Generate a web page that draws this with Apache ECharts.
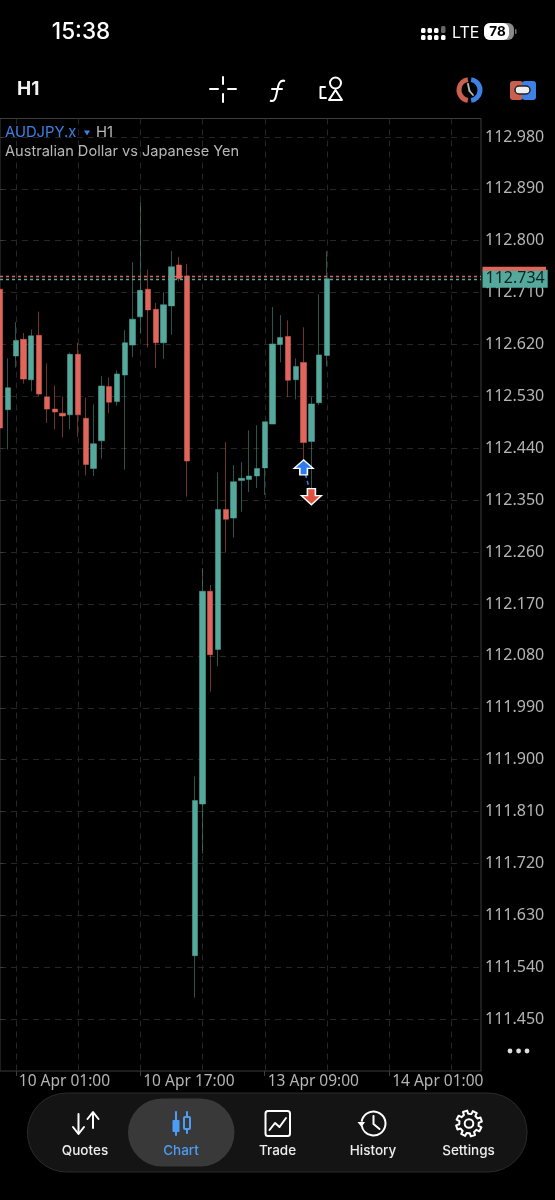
<!DOCTYPE html>
<html>
<head>
  <meta charset="utf-8">
  <title>AUDJPY.x H1</title>
  <script src="https://cdn.jsdelivr.net/npm/echarts@6/dist/echarts.min.js"></script>
  <style>
    html, body { margin: 0; background: #000; }
    #chart { width: 555px; height: 1200px; }
  </style>
</head>
<body>
  <div id="chart"></div>

  <script>
    // candles (index 0 is the half cut bar on the left edge)
    var opens = [112.716, 112.507, 112.600, 112.629, 112.559, 112.636, 112.529, 112.508, 112.501, 112.498, 112.603,
      112.492, 112.405, 112.453, 112.547, 112.521, 112.567, 112.619, 112.668, 112.716, 112.681, 112.623,
      112.687, 112.758, 112.739, 111.560, 111.823, 112.192, 112.091, 112.334, 112.319, 112.384, 112.386,
      112.392, 112.406, 112.482, 112.620, 112.634, 112.559, 112.589, 112.452, 112.519, 112.601];
    var closes = [112.475, 112.545, 112.627, 112.560, 112.635, 112.534, 112.508, 112.503, 112.496, 112.603, 112.498,
      112.412, 112.448, 112.548, 112.520, 112.569, 112.623, 112.664, 112.714, 112.680, 112.623, 112.689,
      112.755, 112.734, 112.418, 111.829, 112.192, 112.082, 112.334, 112.317, 112.382, 112.388, 112.392,
      112.405, 112.486, 112.621, 112.632, 112.558, 112.582, 112.450, 112.517, 112.602, 112.734];
    var lows = [112.465, 112.438, 112.580, 112.552, 112.539, 112.530, 112.484, 112.473, 112.459, 112.473, 112.460,
      112.393, 112.392, 112.422, 112.501, 112.514, 112.403, 112.598, 112.639, 112.615, 112.579, 112.595,
      112.637, 112.729, 112.356, 111.487, 111.737, 112.018, 112.062, 112.260, 112.285, 112.330, 112.364,
      112.371, 112.359, 112.482, 112.589, 112.529, 112.525, 112.419, 112.364, 112.515, 112.582];
    var highs = [112.725, 112.596, 112.659, 112.640, 112.646, 112.677, 112.587, 112.549, 112.530, 112.606, 112.623,
      112.528, 112.516, 112.565, 112.563, 112.575, 112.645, 112.763, 112.867, 112.750, 112.692, 112.711,
      112.782, 112.772, 112.760, 111.871, 112.232, 112.203, 112.398, 112.451, 112.411, 112.416, 112.471,
      112.480, 112.486, 112.685, 112.671, 112.662, 112.596, 112.650, 112.529, 112.707, 112.782];

    var priceTicks = [112.98, 112.89, 112.80, 112.71, 112.62, 112.53, 112.44, 112.35, 112.26, 112.17,
      112.08, 111.99, 111.90, 111.81, 111.72, 111.63, 111.54, 111.45];
    var timeGrid = [2, 10, 18, 26, 34, 42, 50, 58];
    var timeTicks = [2, 18, 34, 50];
    var timeLabels = ['10 Apr 01:00', '10 Apr 17:00', '13 Apr 09:00', '14 Apr 01:00'];

    var bidPrice = 112.734;
    var askPrice = 112.739;
    var tradeBars = [39, 40];
    var tradePrices = [112.407, 112.356];

    var UP = '#55a89c';
    var DOWN = '#e0655a';
    var FONT = 'Inter';
    var AXIS_FONT = 'Noto Sans';

    var bars = opens.map(function (o, i) {
      return [i, o, closes[i], lows[i], highs[i]];
    });

    var g = [];
    function seg(x1, y1, x2, y2, w, c) {
      g.push({ type: 'line', silent: true, shape: { x1: x1, y1: y1, x2: x2, y2: y2 }, style: { stroke: c || '#fff', lineWidth: w || 2, lineCap: 'round' }, z: 20 });
    }
    function box(x, y, w, h, r, fill, stroke, lw) {
      g.push({ type: 'rect', silent: true, shape: { x: x, y: y, width: w, height: h, r: r }, style: { fill: fill || 'none', stroke: stroke || 'none', lineWidth: lw || 1 }, z: 20 });
    }
    function txt(s, x, y, size, color, align, weight, font) {
      g.push({ type: 'text', silent: true, x: x, y: y, z: 21, style: { text: s, fill: color, font: (weight || 400) + ' ' + size + 'px ' + (font || FONT), textAlign: align || 'left', textVerticalAlign: 'middle' } });
    }
    function ring(cx, cy, r, w, c, a0, a1) {
      g.push({ type: 'arc', silent: true, shape: { cx: cx, cy: cy, r: r, startAngle: a0 || 0, endAngle: a1 === undefined ? Math.PI * 2 : a1 }, style: { stroke: c || '#fff', lineWidth: w, fill: 'none' }, z: 20 });
    }
    function poly(points, fill, stroke, lw) {
      g.push({ type: 'polygon', silent: true, shape: { points: points }, style: { fill: fill || 'none', stroke: stroke || 'none', lineWidth: lw || 1, lineJoin: 'round' }, z: 20 });
    }
    function pline(points, w, c) {
      g.push({ type: 'polyline', silent: true, shape: { points: points }, style: { stroke: c || '#fff', lineWidth: w || 2, fill: 'none', lineJoin: 'round', lineCap: 'round' }, z: 20 });
    }

    // status bar
    txt('15:38', 81, 32.5, 22.5, '#fff', 'center', 500);
    [421, 427.5, 434].forEach(function (x) {
      box(x, 28, 4.5, 5, 1.5, '#fff');
      box(x, 35, 4.5, 5, 1.5, '#fff');
    });
    box(441, 35, 4.5, 5, 1.5, '#fff');
    box(441, 26, 4.5, 7, 1.5, '#666');
    txt('LTE', 452, 33, 16, '#fff', 'left', 400);
    box(484, 23, 30, 17, 6, '#8a8a8a');
    box(484, 23, 25, 17, 6, '#fff');
    box(515, 29, 1.5, 5, 1, '#777');
    txt('78', 497.5, 32, 13.5, '#000', 'center', 700);

    // toolbar
    txt('H1', 17, 89, 19, '#f2f2f2', 'left', 700);
    seg(210, 89, 218, 89); seg(228, 89, 236, 89);
    seg(223, 77, 223, 84); seg(223, 94, 223, 102);
    g.push({ type: 'bezierCurve', silent: true, shape: { x1: 270, y1: 100.5, cpx1: 280, cpy1: 105, cpx2: 274, cpy2: 77, x2: 285, y2: 81 }, style: { stroke: '#fff', lineWidth: 2, fill: 'none' }, z: 20 });
    seg(272, 89, 282, 89, 2);
    ring(335.5, 83, 5.5, 2);
    poly([[335.5, 90], [342, 100], [329, 100]], null, '#fff', 2);
    pline([[325, 87], [320.5, 87], [320.5, 98], [326, 98]], 2);
    ring(469.5, 90, 10.5, 5, '#c9604f', Math.PI * 0.55, Math.PI * 1.45);
    ring(469.5, 90, 10.5, 5, '#3d80e6', -Math.PI * 0.45, Math.PI * 0.45);
    seg(468, 84, 469.5, 91, 1.8, '#bbb'); seg(469.5, 91, 473, 95, 1.8, '#bbb');
    box(510, 81, 13, 19, 3, '#c9604f');
    box(522, 81, 14, 19, 3, '#3d80e6');
    box(515, 86, 15, 8, 4, '#eee', '#222', 1.5);

    // symbol caption
    txt('AUDJPY.x', 5, 132.5, 14.8, '#3d80e6');
    poly([[84, 130.5], [90, 130.5], [87, 135.5]], '#3d80e6');
    txt('H1', 96, 132.5, 14.8, '#b8b8b8');
    txt('Australian Dollar vs Japanese Yen', 5, 151.5, 14.6, '#b8b8b8');

    // ask strip on the price tag
    box(482.5, 266.7, 63.5, 4, 0, DOWN);

    // more dots
    ring(510, 1051, 1.2, 2.4, '#ddd'); ring(518.6, 1051, 1.2, 2.4, '#ddd'); ring(527, 1051, 1.2, 2.4, '#ddd');

    // tab bar
    box(27.5, 1093, 499.5, 79, 39, '#141414', '#2b2b2b', 1);
    box(128, 1098.5, 106.5, 68, 34, '#393939');
    seg(78.5, 1114, 78.5, 1133); pline([[73, 1127], [78.5, 1134], [84, 1127]], 2);
    seg(93, 1113, 93, 1128); pline([[87.5, 1119], [93, 1112], [98.5, 1119]], 2);

    var TAB_BLUE = '#4d9df5';
    seg(176, 1112, 176, 1135, 2, TAB_BLUE); box(172.5, 1120, 7, 12, 1, TAB_BLUE);
    seg(187, 1112, 187, 1133, 2, TAB_BLUE); box(184, 1117, 6, 12, 1, '#393939', TAB_BLUE, 2);

    box(265.5, 1111, 24.5, 25, 2.5, null, '#fff', 2);
    pline([[269.5, 1130], [275, 1123], [279.5, 1127], [286, 1118]], 2);

    ring(373.5, 1123.5, 12, 2, '#fff', -Math.PI * 0.95, Math.PI * 0.95);
    poly([[357.5, 1122], [365, 1122], [361.5, 1127]], '#fff');
    pline([[373.5, 1116], [373.5, 1124], [379.5, 1129]], 2);

    var gearPts = [];
    for (var k = 0; k < 8; k++) {
      var a = k * Math.PI / 4 - Math.PI / 8 + 0.08;
      var steps = [[-0.23, 9.8], [-0.17, 13], [0.17, 13], [0.23, 9.8]];
      steps.forEach(function (s) {
        gearPts.push([469 + s[1] * Math.cos(a + s[0]), 1123.5 + s[1] * Math.sin(a + s[0])]);
      });
    }
    poly(gearPts, null, '#fff', 2);
    ring(469, 1123.5, 4.3, 2);

    txt('Quotes', 85, 1151, 13.5, '#eee', 'center', 500);
    txt('Chart', 181, 1151, 13.5, TAB_BLUE, 'center', 500);
    txt('Trade', 277.5, 1151, 13.5, '#eee', 'center', 500);
    txt('History', 373, 1151, 13.5, '#eee', 'center', 500);
    txt('Settings', 468.5, 1151, 13.5, '#eee', 'center', 500);

    var myChart = echarts.init(document.getElementById('chart'));

    var option = {
      backgroundColor: '#000',
      animation: false,
      textStyle: { fontFamily: FONT },
      grid: {
        left: 0, top: 118.5, width: 481, height: 952.5,
        show: true, borderColor: '#3d3d3d', borderWidth: 1,
        containLabel: false, outerBoundsMode: 'none'
      },
      xAxis: {
        type: 'value',
        min: -0.028,
        max: 61.8,
        axisLine: { show: false },
        axisTick: { show: true, length: 5, customValues: timeTicks, lineStyle: { color: '#3d3d3d' } },
        axisLabel: {
          show: true,
          customValues: timeTicks,
          align: 'left',
          margin: 3,
          padding: [0, 0, 0, 3],
          color: '#b5b5b5',
          fontFamily: AXIS_FONT,
          fontSize: 15.5,
          formatter: function (v) { return timeLabels[timeTicks.indexOf(v)]; }
        },
        splitLine: { show: false }
      },
      yAxis: {
        type: 'value',
        position: 'right',
        min: 111.36,
        max: 113.012,
        axisLine: { show: false },
        axisTick: { show: true, length: 3, customValues: priceTicks, lineStyle: { color: '#3d3d3d' } },
        axisLabel: {
          customValues: priceTicks,
          margin: 4,
          color: '#b5b5b5',
          fontFamily: AXIS_FONT,
          fontSize: 16,
          formatter: function (v) { return v.toFixed(3); }
        },
        splitLine: { show: true, lineStyle: { color: '#262626', type: [6, 5], width: 1 } }
      },
      series: [
        {
          // vertical dashed grid every 8 bars, the axis only has 4 labelled ticks
          type: 'custom',
          silent: true,
          z: 1,
          data: timeGrid,
          encode: { x: 0 },
          renderItem: function (params, api) {
            var p = api.coord([api.value(0), 112]);
            return {
              type: 'line',
              shape: { x1: Math.round(p[0]) + 0.5, y1: 118.5, x2: Math.round(p[0]) + 0.5, y2: 1071 },
              style: { stroke: '#262626', lineDash: [6, 5], lineWidth: 1 }
            };
          }
        },
        {
          type: 'candlestick',
          z: 3,
          clip: false,
          barWidth: 5.8,
          data: bars,
          itemStyle: {
            color: UP, color0: DOWN,
            borderColor: UP, borderColor0: DOWN,
            borderWidth: 0.5
          },
          markLine: {
            silent: true,
            symbol: 'none',
            animation: false,
            precision: 3, // default of 2 rounds the prices and moves the lines
            data: [
              {
                yAxis: askPrice,
                lineStyle: { color: DOWN, type: [3, 3], width: 1.3 },
                label: { show: false }
              },
              {
                yAxis: bidPrice,
                lineStyle: { color: UP, type: [3, 3], width: 1.3 },
                label: {
                  show: true,
                  position: 'end',
                  distance: 1.5,
                  formatter: bidPrice.toFixed(3),
                  color: '#07231f',
                  backgroundColor: UP,
                  fontSize: 16,
                  fontFamily: AXIS_FONT,
                  padding: [0, 3, 0, 3],
                  lineHeight: 18
                }
              }
            ]
          }
        },
        {
          type: 'line',
          z: 5,
          silent: true,
          symbolKeepAspect: false,
          lineStyle: { color: '#3d80e6', type: [4, 3], width: 1.5 },
          data: [
            {
              value: [tradeBars[0], tradePrices[0]],
              symbol: 'path://M10 0L20 9L14 9L14 16L6 16L6 9L0 9Z',
              symbolSize: [19, 15],
              itemStyle: { color: '#2f7bf0', borderColor: '#fff', borderWidth: 1.4 }
            },
            {
              value: [tradeBars[1], tradePrices[1]],
              symbol: 'path://M6 0L14 0L14 7L20 7L10 16L0 7L6 7Z',
              symbolSize: [20, 16],
              itemStyle: { color: '#e0503f', borderColor: '#fff', borderWidth: 1.4 }
            }
          ]
        }
      ],
      graphic: { elements: g }
    };

    myChart.setOption(option);
  </script>
</body>
</html>
